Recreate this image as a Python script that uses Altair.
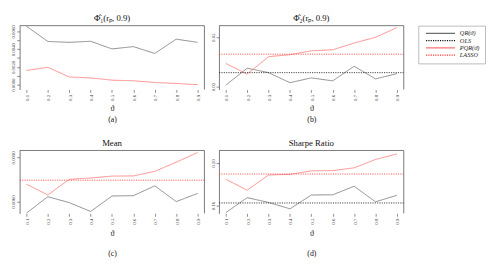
import altair as alt
import pandas as pd

theta = [0.1, 0.2, 0.3, 0.4, 0.5, 0.6, 0.7, 0.8, 0.9]
series_names = ["QR(ϑ)", "OLS", "PQR(ϑ)", "LASSO"]
series_colors = ["#6e6e6e", "#111111", "#ff7070", "#ff3030"]
series_dash = [[1, 0], [1.2, 1.2], [1, 0], [1.2, 1.2]]

a_qr = [0.00658, 0.00487, 0.00477, 0.00489, 0.00403, 0.00429, 0.00352, 0.00513, 0.00477]
a_pqr = [0.00160, 0.00196, 0.00087, 0.00076, 0.00051, 0.00044, 0.00025, 0.00014, 0.00000]
b_qr = [0.0209, 0.0312, 0.0285, 0.0224, 0.0253, 0.0235, 0.0324, 0.0247, 0.0279]
b_pqr = [0.0341, 0.0276, 0.0382, 0.0394, 0.0418, 0.0424, 0.0465, 0.0500, 0.0559]
b_ols = 0.0285
b_lasso = 0.0397
c_qr = [0.00522, 0.00633, 0.00593, 0.00533, 0.00638, 0.00640, 0.00707, 0.00600, 0.00655]
c_pqr = [0.00718, 0.00645, 0.00751, 0.00760, 0.00773, 0.00774, 0.00805, 0.00867, 0.00933]
c_lasso = 0.00745
d_qr = [0.1534, 0.1675, 0.1630, 0.1570, 0.1700, 0.1702, 0.1782, 0.1636, 0.1697]
d_pqr = [0.1848, 0.1745, 0.1888, 0.1894, 0.1927, 0.1929, 0.1955, 0.2034, 0.2085]
d_ols = 0.1625
d_lasso = 0.1897

titles = ["Φ̂₁(rₚ, 0.9)", "Φ̂₂(rₚ, 0.9)", "Mean", "Sharpe Ratio"]
subs = ["(a)", "(b)", "(c)", "(d)"]

W, H_TOP, H_BOT = 191, 66, 65
FONT = "Liberation Serif"

legend = alt.Legend(
    orient="none", legendX=412, legendY=0, direction="vertical", title=None,
    symbolType="M-5,0H5", symbolSize=36, symbolStrokeWidth=1.2, symbolOffset=14,
    labelOffset=16, clipHeight=6,
    labelFont=FONT, labelFontSize=6.5, labelFontStyle="italic", labelColor="#222",
    rowPadding=0.5, padding=5, strokeColor="#bbbbbb", fillColor="white",
)
color = alt.Color("series:N", scale=alt.Scale(domain=series_names, range=series_colors), legend=legend)
dash = alt.StrokeDash("series:N", scale=alt.Scale(domain=series_names, range=series_dash), legend=legend)


def panel(title, sub, qr, pqr, hlines, ydomain, yticks, yfmt, h, line_h, tpad):
    df = pd.DataFrame({
        "theta": theta + theta,
        "value": qr + pqr,
        "series": ["QR(ϑ)"] * len(theta) + ["PQR(ϑ)"] * len(theta),
    })
    x = alt.X("theta:Q",
              scale=alt.Scale(domain=[0.068, 0.932], nice=False, zero=False),
              axis=alt.Axis(values=theta, format=".1f", labelAngle=-90, labelAlign="right",
                            labelBaseline="middle", title=["ϑ", sub], titleLineHeight=line_h,
                            titlePadding=tpad, domain=False, grid=False, tickSize=3, labelPadding=2))
    y = alt.Y("value:Q",
              scale=alt.Scale(domain=ydomain, nice=False, zero=False),
              axis=alt.Axis(values=yticks, format=yfmt, labelAngle=-90, labelAlign="center",
                            labelBaseline="bottom", title=None, grid=False, tickSize=3,
                            labelPadding=1))
    layers = [alt.Chart(df).mark_line(strokeWidth=0.8).encode(x=x, y=y, color=color, strokeDash=dash)]
    if hlines:
        hdf = pd.DataFrame({"series": [s for s, _ in hlines], "value": [v for _, v in hlines]})
        layers.append(alt.Chart(hdf).mark_rule(strokeWidth=0.8).encode(
            y=alt.Y("value:Q"), color=color, strokeDash=dash))
    dummy = pd.DataFrame({"k": [0]})
    layers.append(alt.Chart(dummy).mark_rule(color="#555", strokeWidth=0.8).encode(
        x=alt.value(0), x2=alt.value(W), y=alt.value(0)))
    layers.append(alt.Chart(dummy).mark_rule(color="#555", strokeWidth=0.8).encode(
        x=alt.value(W), y=alt.value(0), y2=alt.value(h)))
    return alt.layer(*layers).properties(
        width=W, height=h,
        title=alt.TitleParams(title, font=FONT, fontSize=9, fontWeight="normal",
                              anchor="middle", offset=2, color="#111"),
    )


pa = panel(titles[0], subs[0], a_qr, a_pqr, [], [-0.000545, 0.00665],
           [0.0, 0.001, 0.002, 0.003, 0.004, 0.005, 0.006], ".4f", H_TOP, 12, 4)
pb = panel(titles[1], subs[1], b_qr, b_pqr, [("OLS", b_ols), ("LASSO", b_lasso)], [0.01824, 0.05706],
           [0.02, 0.03, 0.04, 0.05], ".2f", H_TOP, 12, 4)
pc = panel(titles[2], subs[2], c_qr, c_pqr, [("LASSO", c_lasso)], [0.0052, 0.009467],
           [0.006, 0.007, 0.008, 0.009], ".4f", H_BOT, 20, 6)
pd_ = panel(titles[3], subs[3], d_qr, d_pqr, [("OLS", d_ols), ("LASSO", d_lasso)], [0.15273, 0.21182],
            [0.16, 0.18, 0.20], ".2f", H_BOT, 20, 6)

chart = alt.concat(pa, pb, pc, pd_, columns=2, spacing={"row": 15, "column": 4}).resolve_scale(
    x="independent", y="independent", color="shared", strokeDash="shared"
).properties(
    padding={"left": 2, "top": 2, "right": 0, "bottom": 0},
    background="white",
).configure_view(stroke=None).configure_axis(
    labelFont=FONT, labelFontSize=5, labelColor="#333", tickColor="#444", domainColor="#555",
    tickWidth=0.6, domainWidth=0.8, titleFont=FONT, titleFontSize=8, titleFontWeight="normal",
    titleColor="#111",
)

chart.save("out.html", embed_options={"renderer": "svg", "actions": False})
